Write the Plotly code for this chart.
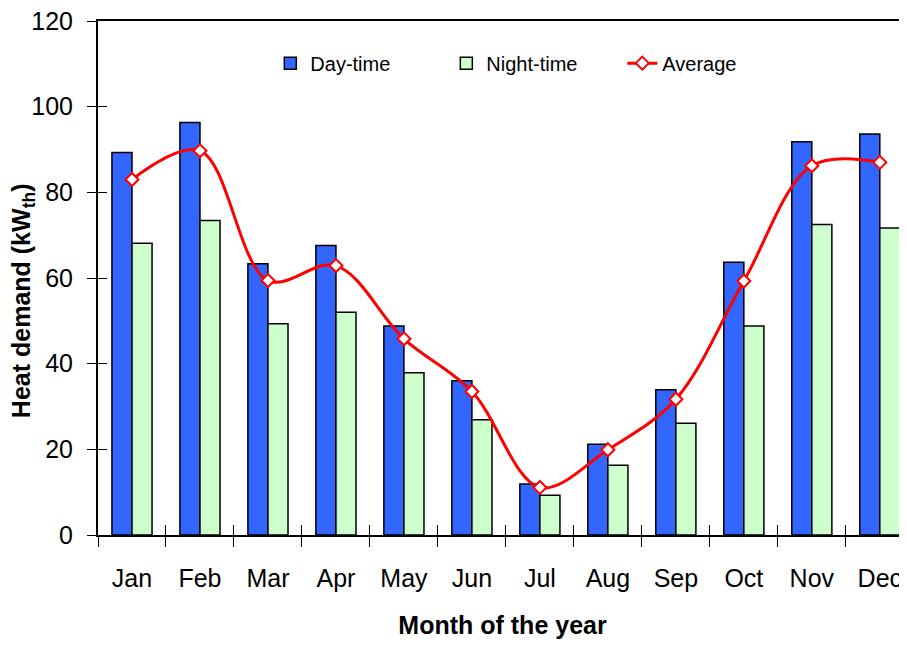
"""Heat demand by month: day-time / night-time bars with average line."""

import plotly.graph_objects as go

MONTHS = ["Jan", "Feb", "Mar", "Apr", "May", "Jun",
          "Jul", "Aug", "Sep", "Oct", "Nov", "Dec"]
DAY_TIME = [89.3, 96.3, 63.3, 67.6, 48.8, 36.0, 11.9, 21.2, 33.9, 63.7, 91.8, 93.6]
NIGHT_TIME = [68.1, 73.4, 49.3, 52.0, 37.9, 26.9, 9.3, 16.3, 26.1, 48.8, 72.5, 71.7]
AVERAGE = [83.0, 89.7, 59.4, 62.9, 45.8, 33.5, 11.1, 19.9, 31.7, 59.3, 86.2, 87.0]
Y_TICKS = [0, 20, 40, 60, 80, 100, 120]

FONT = "Liberation Sans, Arial, sans-serif"
X_RANGE = [-0.5, 11.4]

fig = go.Figure()
fig.add_trace(go.Bar(
    x=MONTHS, y=DAY_TIME, name="Day-time",
    marker=dict(color="#3366FF", line=dict(color="black", width=1.5)),
))
fig.add_trace(go.Bar(
    x=MONTHS, y=NIGHT_TIME, name="Night-time",
    marker=dict(color="#CCFFCC", line=dict(color="black", width=1.5)),
))
fig.add_trace(go.Scatter(
    x=MONTHS, y=AVERAGE, name="Average", mode="lines+markers",
    line=dict(color="#FF0000", width=3, shape="spline", smoothing=1),
    marker=dict(symbol="diamond", size=10, color="white",
                line=dict(color="#FF0000", width=2)),
))
# невидимый след для второй пары осей (внутренние засечки)
fig.add_trace(go.Scatter(
    x=MONTHS, y=[None] * len(MONTHS), xaxis="x2", yaxis="y2",
    showlegend=False, hoverinfo="skip",
))

# страница имеет отступ 8px у body, поэтому фигура чуть меньше окна
fig.update_layout(
    width=899, height=638,
    margin=dict(l=90, r=0, t=13, b=111),
    plot_bgcolor="white", paper_bgcolor="white",
    font=dict(family=FONT, size=25, color="black"),
    barmode="group", bargap=0.41, bargroupgap=0,
    legend=dict(
        orientation="h", x=0.213, y=0.918, xanchor="left", yanchor="middle",
        font=dict(size=20), bgcolor="rgba(0,0,0,0)",
        entrywidth=131, entrywidthmode="pixels",
    ),
    xaxis=dict(
        type="category", range=X_RANGE, tickson="boundaries", automargin=False,
        ticks="outside", ticklen=10, tickcolor="black", tickwidth=1,
        showline=True, linecolor="black", linewidth=2, mirror=True,
        showgrid=False, tickfont=dict(size=25), ticklabelstandoff=20,
        ticklabeloverflow="allow",
        title=dict(text="<b>Month of the year</b>", font=dict(size=25), standoff=25),
    ),
    yaxis=dict(
        range=[0, 120], tickvals=Y_TICKS, automargin=False,
        ticks="outside", ticklen=9, tickcolor="black", tickwidth=1,
        showline=True, linecolor="black", linewidth=2,
        showgrid=False, zeroline=False, tickfont=dict(size=25), ticklabelstandoff=9,
        ticklabeloverflow="allow",
    ),
    xaxis2=dict(
        type="category", range=X_RANGE, tickson="boundaries", overlaying="x",
        ticks="inside", ticklen=10, tickcolor="black", tickwidth=1,
        showticklabels=False, showgrid=False, showline=False,
    ),
    yaxis2=dict(
        range=[0, 120], tickvals=Y_TICKS, overlaying="y",
        ticks="inside", ticklen=9, tickcolor="black", tickwidth=1,
        showticklabels=False, showgrid=False, zeroline=False, showline=False,
    ),
    annotations=[dict(
        text="<b>Heat demand (kW<sub>th</sub>)</b>", textangle=-90,
        xref="paper", yref="paper", x=0, y=0.455, xshift=-75,
        xanchor="center", yanchor="middle", showarrow=False,
        font=dict(size=25),
    )],
)

fig.write_html("out.html")
